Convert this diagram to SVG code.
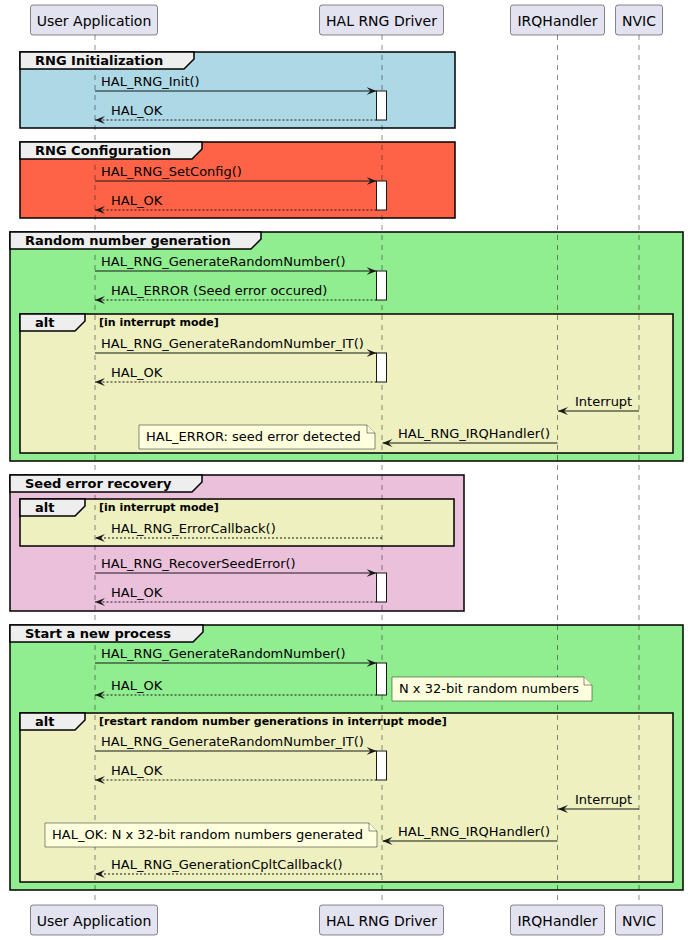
<svg xmlns="http://www.w3.org/2000/svg" width="688" height="940" viewBox="0 0 688 940">
<defs>
<marker id="ah" viewBox="0 0 10 8" refX="10" refY="4" markerWidth="10" markerHeight="8" markerUnits="userSpaceOnUse" orient="auto">
<path d="M0,0 L10,4 L0,8 L4,4 Z" fill="#181818"/>
</marker>
<style>
.pbox{fill:#E2E2F0;stroke:#181818;stroke-width:0.5}
.ptxt{font-family:"DejaVu Sans",sans-serif;font-size:14px;fill:#000;text-anchor:middle}
.life{stroke:#181818;stroke-width:0.5;stroke-dasharray:5,5;fill:none}
.gframe{fill:none;stroke:#000;stroke-width:1.5}
.gtab{fill:#EEEEEE;stroke:#000;stroke-width:1.5}
.gtitle{font-family:"DejaVu Sans",sans-serif;font-size:13px;font-weight:bold;fill:#000}
.guard{font-family:"DejaVu Sans",sans-serif;font-size:11px;font-weight:bold;fill:#000}
.msg{font-family:"DejaVu Sans",sans-serif;font-size:13px;fill:#000}
.act{fill:#FFFFFF;stroke:#181818;stroke-width:1}
.call{stroke:#181818;stroke-width:1;fill:none;marker-end:url(#ah)}
.ret{stroke:#181818;stroke-width:1;fill:none;stroke-dasharray:2,2;marker-end:url(#ah)}
.note{fill:#FEFFDD;stroke:#181818;stroke-width:0.5}
.alt{fill:#EEF0C0}
</style>
</defs>
<rect width="688" height="940" fill="#FFFFFF"/>

<g id="group-fills">
<rect x="20" y="52" width="435" height="76" fill="#ADD8E6"/>
<rect x="20" y="142" width="435" height="76" fill="#FF6347"/>
<rect x="10" y="232" width="673" height="229" fill="#90EE90"/>
<rect class="alt" x="20" y="314" width="653" height="139"/>
<rect x="10" y="475" width="454" height="136" fill="#EBC0DB"/>
<rect class="alt" x="20" y="499" width="434" height="47"/>
<rect x="10" y="625" width="673" height="265" fill="#90EE90"/>
<rect class="alt" x="20" y="713" width="653" height="169"/>
</g>

<g id="lifelines">
<line class="life" x1="95" y1="35" x2="95" y2="905"/>
<line class="life" x1="382" y1="35" x2="382" y2="905"/>
<line class="life" x1="557.5" y1="35" x2="557.5" y2="905"/>
<line class="life" x1="639" y1="35" x2="639" y2="905"/>
</g>

<g id="grp-init">
<rect class="gframe" x="20" y="52" width="435" height="76"/>
<polygon class="gtab" points="20,52 194,52 194,59 184,69 20,69"/>
<text class="gtitle" x="35" y="65">RNG Initialization</text>
</g>
<g id="grp-config">
<rect class="gframe" x="20" y="142" width="435" height="76"/>
<polygon class="gtab" points="20,142 202,142 202,149 192,159 20,159"/>
<text class="gtitle" x="35" y="155">RNG Configuration</text>
</g>
<g id="grp-random">
<rect class="gframe" x="10" y="232" width="673" height="229"/>
<polygon class="gtab" points="10,232 261,232 261,239 251,249 10,249"/>
<text class="gtitle" x="25" y="245">Random number generation</text>
</g>
<g id="alt-random">
<rect class="gframe" x="20" y="314" width="653" height="139"/>
<polygon class="gtab" points="20,314 85,314 85,321 75,331 20,331"/>
<text class="gtitle" x="35" y="327">alt</text>
<text class="guard" x="99" y="326">[in interrupt mode]</text>
</g>
<g id="grp-seed">
<rect class="gframe" x="10" y="475" width="454" height="136"/>
<polygon class="gtab" points="10,475 202,475 202,482 192,492 10,492"/>
<text class="gtitle" x="25" y="488">Seed error recovery</text>
</g>
<g id="alt-seed">
<rect class="gframe" x="20" y="499" width="434" height="47"/>
<polygon class="gtab" points="20,499 85,499 85,506 75,516 20,516"/>
<text class="gtitle" x="35" y="512">alt</text>
<text class="guard" x="99" y="511">[in interrupt mode]</text>
</g>
<g id="grp-start">
<rect class="gframe" x="10" y="625" width="673" height="265"/>
<polygon class="gtab" points="10,625 203,625 203,632 193,642 10,642"/>
<text class="gtitle" x="25" y="638">Start a new process</text>
</g>
<g id="alt-start">
<rect class="gframe" x="20" y="713" width="653" height="169"/>
<polygon class="gtab" points="20,713 85,713 85,720 75,730 20,730"/>
<text class="gtitle" x="35" y="726">alt</text>
<text class="guard" x="99" y="725">[restart random number generations in interrupt mode]</text>
</g>

<g id="activations">
<rect class="act" x="376.5" y="91" width="10" height="29"/>
<rect class="act" x="376.5" y="181" width="10" height="29"/>
<rect class="act" x="376.5" y="271" width="10" height="29"/>
<rect class="act" x="376.5" y="353" width="10" height="29"/>
<rect class="act" x="376.5" y="573" width="10" height="29"/>
<rect class="act" x="376.5" y="663" width="10" height="32"/>
<rect class="act" x="376.5" y="751" width="10" height="29"/>
</g>

<g id="connectors">
<line class="call" x1="95" y1="91" x2="376.5" y2="91"/>
<text class="msg" x="101" y="86">HAL_RNG_Init()</text>
<line class="ret" x1="376.5" y1="120" x2="95" y2="120"/>
<text class="msg" x="111" y="115">HAL_OK</text>

<line class="call" x1="95" y1="181" x2="376.5" y2="181"/>
<text class="msg" x="101" y="176">HAL_RNG_SetConfig()</text>
<line class="ret" x1="376.5" y1="210" x2="95" y2="210"/>
<text class="msg" x="111" y="205">HAL_OK</text>

<line class="call" x1="95" y1="271" x2="376.5" y2="271"/>
<text class="msg" x="101" y="266">HAL_RNG_GenerateRandomNumber()</text>
<line class="ret" x1="376.5" y1="300" x2="95" y2="300"/>
<text class="msg" x="111" y="295">HAL_ERROR (Seed error occured)</text>

<line class="call" x1="95" y1="353" x2="376.5" y2="353"/>
<text class="msg" x="101" y="348">HAL_RNG_GenerateRandomNumber_IT()</text>
<line class="ret" x1="376.5" y1="382" x2="95" y2="382"/>
<text class="msg" x="111" y="377">HAL_OK</text>

<line class="call" x1="639" y1="411" x2="558" y2="411"/>
<text class="msg" x="575" y="406">Interrupt</text>
<line class="call" x1="557.5" y1="443" x2="382.5" y2="443"/>
<text class="msg" x="398" y="438">HAL_RNG_IRQHandler()</text>

<line class="ret" x1="382" y1="538" x2="95" y2="538"/>
<text class="msg" x="111" y="533">HAL_RNG_ErrorCallback()</text>

<line class="call" x1="95" y1="573" x2="376.5" y2="573"/>
<text class="msg" x="101" y="568">HAL_RNG_RecoverSeedError()</text>
<line class="ret" x1="376.5" y1="602" x2="95" y2="602"/>
<text class="msg" x="111" y="597">HAL_OK</text>

<line class="call" x1="95" y1="663" x2="376.5" y2="663"/>
<text class="msg" x="101" y="658">HAL_RNG_GenerateRandomNumber()</text>
<line class="ret" x1="376.5" y1="695" x2="95" y2="695"/>
<text class="msg" x="111" y="690">HAL_OK</text>

<line class="call" x1="95" y1="751" x2="376.5" y2="751"/>
<text class="msg" x="101" y="746">HAL_RNG_GenerateRandomNumber_IT()</text>
<line class="ret" x1="376.5" y1="780" x2="95" y2="780"/>
<text class="msg" x="111" y="775">HAL_OK</text>

<line class="call" x1="639" y1="809" x2="558" y2="809"/>
<text class="msg" x="575" y="804">Interrupt</text>
<line class="call" x1="557.5" y1="841" x2="382.5" y2="841"/>
<text class="msg" x="398" y="836">HAL_RNG_IRQHandler()</text>

<line class="ret" x1="382" y1="874" x2="95" y2="874"/>
<text class="msg" x="111" y="869">HAL_RNG_GenerationCpltCallback()</text>
</g>

<g id="note-seed-error">
<path class="note" d="M139,425 L367,425 L375,433 L375,449 L139,449 Z"/>
<path class="note" d="M367,425 L367,433 L375,433"/>
<text class="msg" x="146" y="441">HAL_ERROR: seed error detected</text>
</g>
<g id="note-random-numbers">
<path class="note" d="M392,677 L584,677 L592,685 L592,701 L392,701 Z"/>
<path class="note" d="M584,677 L584,685 L592,685"/>
<text class="msg" x="399" y="693">N x 32-bit random numbers</text>
</g>
<g id="note-generated">
<path class="note" d="M45,823 L369,823 L377,831 L377,847 L45,847 Z"/>
<path class="note" d="M369,823 L369,831 L377,831"/>
<text class="msg" x="52" y="839">HAL_OK: N x 32-bit random numbers generated</text>
</g>

<g id="p-user-top"><rect class="pbox" x="30.5" y="5" width="127" height="30" rx="2.5"/><text class="ptxt" x="94" y="25.5">User Application</text></g>
<g id="p-driver-top"><rect class="pbox" x="319.5" y="5" width="124" height="30" rx="2.5"/><text class="ptxt" x="381.5" y="25.5">HAL RNG Driver</text></g>
<g id="p-irq-top"><rect class="pbox" x="510.5" y="5" width="94" height="30" rx="2.5"/><text class="ptxt" x="557.5" y="25.5">IRQHandler</text></g>
<g id="p-nvic-top"><rect class="pbox" x="615.5" y="5" width="47" height="30" rx="2.5"/><text class="ptxt" x="639" y="25.5">NVIC</text></g>

<g id="p-user-bottom"><rect class="pbox" x="30.5" y="905" width="127" height="30" rx="2.5"/><text class="ptxt" x="94" y="925.5">User Application</text></g>
<g id="p-driver-bottom"><rect class="pbox" x="319.5" y="905" width="124" height="30" rx="2.5"/><text class="ptxt" x="381.5" y="925.5">HAL RNG Driver</text></g>
<g id="p-irq-bottom"><rect class="pbox" x="510.5" y="905" width="94" height="30" rx="2.5"/><text class="ptxt" x="557.5" y="925.5">IRQHandler</text></g>
<g id="p-nvic-bottom"><rect class="pbox" x="615.5" y="905" width="47" height="30" rx="2.5"/><text class="ptxt" x="639" y="925.5">NVIC</text></g>
</svg>
